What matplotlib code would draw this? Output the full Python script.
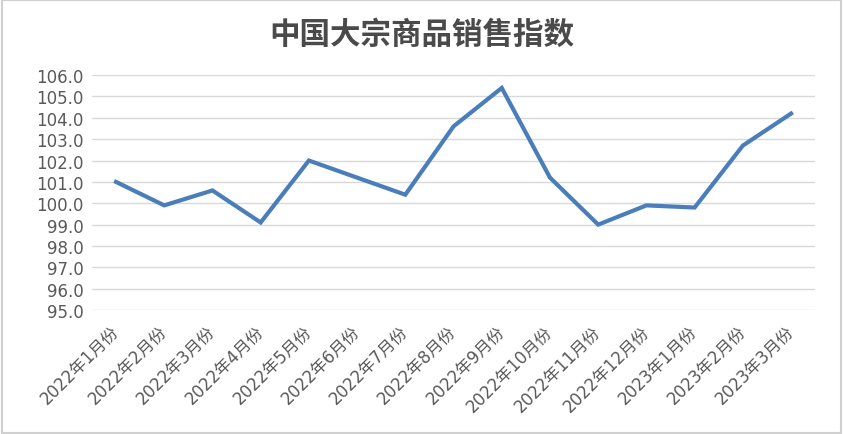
import matplotlib.pyplot as plt
from matplotlib.patches import Rectangle

# 月份与指数
months = ["2022年1月份", "2022年2月份", "2022年3月份", "2022年4月份", "2022年5月份",
          "2022年6月份", "2022年7月份", "2022年8月份", "2022年9月份", "2022年10月份",
          "2022年11月份", "2022年12月份", "2023年1月份", "2023年2月份", "2023年3月份"]
index_values = [101.0, 99.9, 100.6, 99.1, 102.0, 101.2, 100.4, 103.6, 105.4,
                101.2, 99.0, 99.9, 99.8, 102.7, 104.2]
y_ticks = [95.0, 96.0, 97.0, 98.0, 99.0, 100.0, 101.0, 102.0, 103.0, 104.0, 105.0, 106.0]

plt.rcParams['font.family'] = ['DejaVu Sans', 'Noto Sans CJK SC']

fig = plt.figure(figsize=(8.43, 4.35), dpi=100)
ax = fig.add_axes([0.109, 0.285, 0.858, 0.54])

x = list(range(len(months)))
ax.plot(x, index_values, color='#4a7ebb', linewidth=3, solid_joinstyle='miter')

ax.set_xlim(-0.5, len(months) - 0.5)
ax.set_ylim(95, 106)
ax.set_yticks(y_ticks)
ax.set_yticklabels([f"{v:.1f}" for v in y_ticks])
ax.set_xticks(x)
ax.set_xticklabels(months, rotation=45, ha='right', va='center', rotation_mode='anchor')

ax.grid(axis='y', color='#d9d9d9', linewidth=1)
ax.set_axisbelow(True)
for s in ax.spines.values():
    s.set_visible(False)
ax.tick_params(axis='both', length=0, colors='#595959', labelsize=12)
ax.tick_params(axis='x', pad=13)
ax.tick_params(axis='y', pad=6)

fig.text(0.5, 0.92, "中国大宗商品销售指数", ha='center', va='center', fontsize=22,
         fontweight='bold', color='#4a4a4a', family=['Noto Sans CJK SC', 'DejaVu Sans'])

# 外框
fig.patches.append(Rectangle((0.002, 0.003), 0.996, 0.994, transform=fig.transFigure,
                             fill=False, edgecolor='#d0d0d0', linewidth=1.5))

fig.savefig('out.png', dpi=100)
